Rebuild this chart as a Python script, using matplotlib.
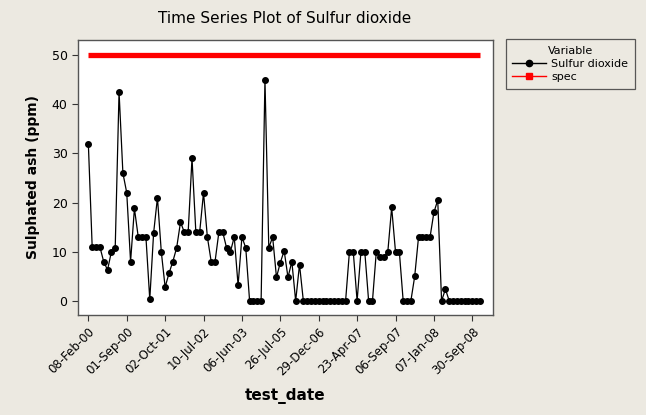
import matplotlib
matplotlib.use("Agg")
import matplotlib.pyplot as plt
from matplotlib.lines import Line2D

sulfur_dioxide = [
    32, 11, 11, 11, 8, 6.3, 10, 10.8, 42.5, 26,
    22, 8, 18.8, 13, 13, 13, 0.3, 13.8, 21, 10,
    2.8, 5.6, 8, 10.8, 16, 14, 14, 29, 14, 14,
    22, 13, 8, 8, 14, 14, 10.8, 10, 13, 3.2,
    13, 10.8, 0, 0, 0, 0, 45, 10.8, 13, 4.8,
    7.8, 10.2, 4.8, 8, 0, 7.4, 0, 0, 0, 0,
    0, 0, 0, 0, 0, 0, 0, 0, 10, 10,
    0, 10, 10, 0, 0, 10, 9, 9, 10, 19,
    10, 10, 0, 0, 0, 5, 13, 13, 13, 13,
    18, 20.5, 0, 2.4, 0, 0, 0, 0, 0, 0,
    0, 0, 0,
]
spec_value = 50
tick_labels = ['08-Feb-00', '01-Sep-00', '02-Oct-01', '10-Jul-02', '06-Jun-03',
               '26-Jul-05', '29-Dec-06', '23-Apr-07', '06-Sep-07', '07-Jan-08',
               '30-Sep-08']
y_ticks = [0, 10, 20, 30, 40, 50]

bg = '#ECE9E1'
fig = plt.figure(figsize=(6.46, 4.15), dpi=100, facecolor=bg)
ax = fig.add_axes([0.1207, 0.241, 0.6425, 0.6627])
ax.set_facecolor('white')

n = len(sulfur_dioxide)
x = list(range(n))
ax.plot(x, [spec_value] * n, color='#FF0000', lw=3.8, solid_capstyle='butt', zorder=2)
ax.plot(x, sulfur_dioxide, color='black', lw=0.9, marker='o', markersize=4.0, zorder=3)

ax.set_xlim(-2.7, 105.4)
ax.set_ylim(-2.85, 53.05)
ax.set_yticks(y_ticks)
ax.set_yticklabels([str(v) for v in y_ticks], fontsize=9)
ax.set_xticks(list(range(0, 10 * len(tick_labels), 10)))
ax.set_xticklabels(tick_labels, rotation=45, ha='right', rotation_mode='anchor', fontsize=8.5)
ax.tick_params(axis='both', direction='out', length=4, width=0.8, colors='#333333', labelcolor='black')
for s in ax.spines.values():
    s.set_color('#555555')
    s.set_linewidth(1.0)

ax.set_ylabel('Sulphated ash (ppm)', fontsize=10, fontweight='bold', labelpad=8)
ax.set_xlabel('test_date', fontsize=11, fontweight='bold', labelpad=7)
fig.text(0.44, 0.955, 'Time Series Plot of Sulfur dioxide', ha='center', va='center', fontsize=11)

handles = [
    Line2D([], [], color='black', lw=1, marker='o', markersize=4.5),
    Line2D([], [], color='red', lw=1, marker='s', markersize=4.5),
]
leg = fig.legend(handles, ['Sulfur dioxide', 'spec'], title='Variable',
                 loc='upper left', bbox_to_anchor=(0.783, 0.906), fontsize=8,
                 title_fontsize=8, frameon=True, fancybox=False, borderpad=0.6,
                 handlelength=3.0, handletextpad=0.5, labelspacing=0.3, borderaxespad=0)
leg.get_frame().set_edgecolor('#333333')
leg.get_frame().set_facecolor(bg)
leg.get_frame().set_linewidth(0.9)

fig.savefig('out.png', dpi=100, facecolor=bg)
